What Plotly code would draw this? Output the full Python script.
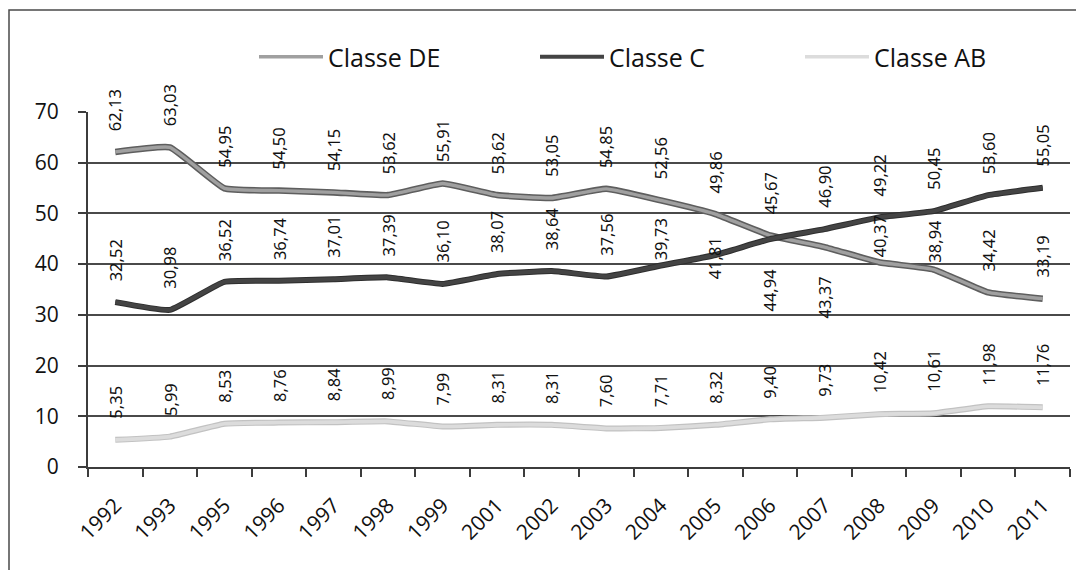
import plotly.graph_objects as go

# ---- data -------------------------------------------------------------
years = ["1992", "1993", "1995", "1996", "1997", "1998", "1999", "2001", "2002",
         "2003", "2004", "2005", "2006", "2007", "2008", "2009", "2010", "2011"]
classe_de = [62.13, 63.03, 54.95, 54.50, 54.15, 53.62, 55.91, 53.62, 53.05,
             54.85, 52.56, 49.86, 45.67, 43.37, 40.37, 38.94, 34.42, 33.19]
classe_c = [32.52, 30.98, 36.52, 36.74, 37.01, 37.39, 36.10, 38.07, 38.64,
            37.56, 39.73, 41.81, 44.94, 46.90, 49.22, 50.45, 53.60, 55.05]
classe_ab = [5.35, 5.99, 8.53, 8.76, 8.84, 8.99, 7.99, 8.31, 8.31,
             7.60, 7.71, 8.32, 9.40, 9.73, 10.42, 10.61, 11.98, 11.76]
y_ticks = [0, 10, 20, 30, 40, 50, 60, 70]

# ---- styles -----------------------------------------------------------
# page has an 8px body margin: figure drawn from (8, 8)
OFF = 8
W, H = 1084 - OFF, 570 - OFF
L, R, T, B = 88 - OFF, (1084 - 1070), 112 - OFF, 570 - 467
pw, ph = W - L - R, H - T - B
def px(xpage):
    return (xpage - OFF - L) / pw
def py(ypage):
    return (H - B - (ypage - OFF)) / ph

series = [
    # name, values, outline colour, outline width, inner colour, inner width, legend id, legend left (page px)
    ("Classe DE", classe_de, "#5e5e5e", 6.5, "#a0a0a0", 3.4, "legend", 254),
    ("Classe C", classe_c, "#2e2e2e", 6.0, "#444444", 4.0, "legend2", 535),
    ("Classe AB", classe_ab, "#c2c2c2", 6.0, "#dcdcdc", 3.6, "legend3", 800),
]

# label placement: default = above the point; a few labels were moved
label_place = {
    ("Classe C", "2004"): ("bottom", 3),
    ("Classe C", "2005"): ("middle", -3),
    ("Classe C", "2006"): ("top", -27),
    ("Classe DE", "2007"): ("top", -28),
    ("Classe DE", "2008"): ("bottom", 3),
    ("Classe DE", "2009"): ("bottom", 5),
}
DEFAULT_SHIFT = 19

FONT = "Open Sans"
LABEL_FONT = "Noto Sans"

fig = go.Figure()
legend_layouts = {}
for name, vals, oc, ow, ic, iw, leg, leg_x in series:
    fig.add_trace(go.Scatter(
        x=years, y=vals, mode="lines", name=name, legendgroup=name,
        showlegend=False, hoverinfo="skip",
        line=dict(color=oc, width=ow, shape="spline", smoothing=0.35),
    ))
    fig.add_trace(go.Scatter(
        x=years, y=vals, mode="lines", name=name, legendgroup=name, legend=leg,
        line=dict(color=ic, width=iw, shape="spline", smoothing=0.35),
    ))
    legend_layouts[leg] = dict(
        orientation="h", x=px(leg_x), xanchor="left",
        y=py(57), yanchor="middle",
        font=dict(family=FONT, size=25, color="#111111"),
        itemwidth=64, bgcolor="rgba(0,0,0,0)",
    )

annotations = []
for name, vals, *_ in series:
    for i, (yr, v) in enumerate(zip(years, vals)):
        anchor, shift = label_place.get((name, yr), ("bottom", DEFAULT_SHIFT))
        annotations.append(dict(
            x=i, y=v, xref="x", yref="y",   # category index on the x axis
            text=f"{v:.2f}".replace(".", ","),
            showarrow=False, textangle=-90,
            xanchor="center", yanchor=anchor, yshift=shift,
            font=dict(family=LABEL_FONT, size=16.5, color="#111111"),
        ))

fig.update_layout(
    width=W, height=H,
    margin=dict(l=L, r=R, t=T, b=B),
    paper_bgcolor="white", plot_bgcolor="white",
    font=dict(family=FONT, color="#111111"),
    annotations=annotations,
    shapes=[dict(type="rect", xref="paper", yref="paper",
                 x0=px(9), x1=px(1100), y0=py(590), y1=py(10),
                 line=dict(color="#4a4a4a", width=1.5), layer="below")],
    showlegend=True,
    **legend_layouts,
)
fig.update_xaxes(
    type="category", categoryorder="array", categoryarray=years,
    range=[-0.5, len(years) - 0.5],
    showline=True, linecolor="#3c3c3c", linewidth=2,
    ticks="outside", tickson="boundaries", ticklen=8, tickwidth=1.5, tickcolor="#3c3c3c",
    tickangle=-45, tickfont=dict(family=FONT, size=21, color="#111111"),
    ticklabelstandoff=16,
    showgrid=False, zeroline=False,
)
fig.update_yaxes(
    range=[0, 70], tickvals=y_ticks, ticktext=[str(t) for t in y_ticks],
    showline=True, linecolor="#3c3c3c", linewidth=2,
    ticks="outside", ticklen=8, tickwidth=1.5, tickcolor="#3c3c3c",
    tickfont=dict(family=FONT, size=21, color="#111111"),
    ticklabelstandoff=15,
    showgrid=True, gridcolor="#4a4a4a", gridwidth=1.5, zeroline=False,
)

fig.write_html("out.html")
